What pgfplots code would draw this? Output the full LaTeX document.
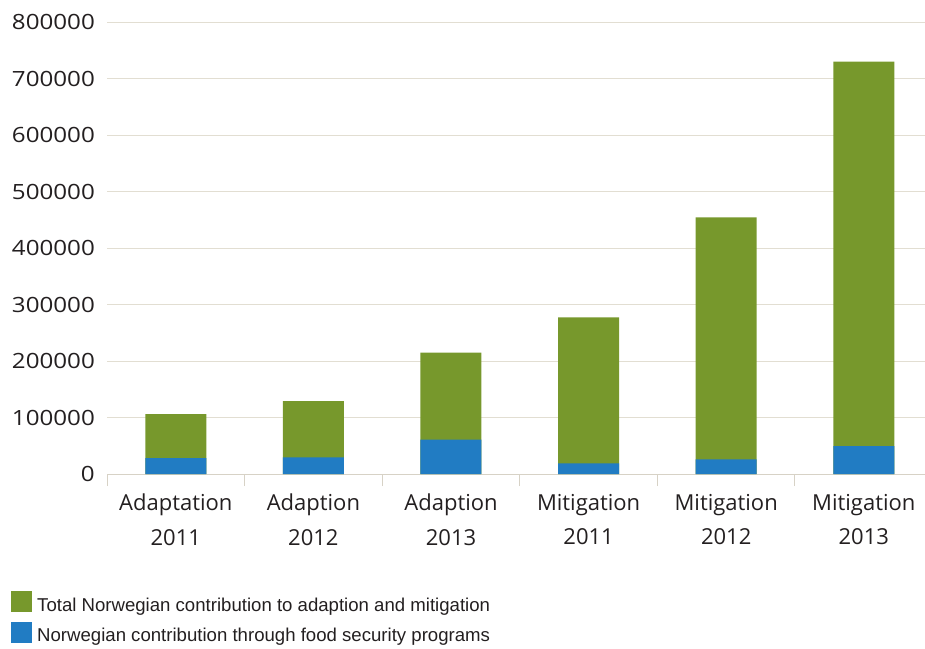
\documentclass[border=0pt]{standalone}
\usepackage{fontspec}
\setmainfont{Open Sans}
\newfontfamily\widefont[FakeStretch=1.15]{Open Sans}
\newfontfamily\legfont{Liberation Sans}
\usepackage{pgfplots}
\pgfplotsset{compat=1.18}
\definecolor{cgreen}{RGB}{119,152,44}
\definecolor{cblue}{RGB}{33,124,195}
\definecolor{cgrid}{RGB}{226,222,210}
\definecolor{caxis}{RGB}{215,210,198}
\definecolor{ctext}{RGB}{35,31,32}
\begin{document}
\begin{tikzpicture}
\path[use as bounding box] (0pt,0pt) rectangle (925pt,648pt);
\begin{axis}[
  at={(107pt,174pt)}, anchor=south west,
  scale only axis, width=818pt, height=452pt,
  xmin=-0.5, xmax=5.445, ymin=0, ymax=800000,
  axis x line*=bottom, axis y line*=left,
  x axis line style={draw=caxis, line width=1pt},
  y axis line style={draw=none},
  xtick={0,1,2,3,4,5},
  xticklabels={{Adaptation\\2011},{Adaption\\2012},{Adaption\\2013},{Mitigation\\2011},{Mitigation\\2012},{Mitigation\\2013}},
  minor xtick={-0.5,0.5,1.5,2.5,3.5,4.5},
  major tick length=0pt, minor tick length=12pt,
  tick align=outside,
  minor x tick style={draw=caxis, line width=1pt},
  xticklabel style={align=center, font=\fontsize{22}{34.3}\selectfont, text=ctext, inner sep=0pt, anchor=north, yshift=-20pt},
  ytick={0,100000,200000,300000,400000,500000,600000,700000,800000},
  scaled y ticks=false,
  yticklabel={\pgfmathprintnumber[fixed,precision=0,1000 sep={},assume math mode=true]{\tick}},
  yticklabel style={font=\widefont\fontsize{21}{21}\selectfont, text=ctext, inner sep=0pt, anchor=east, xshift=-12pt},
  ymajorgrids, grid style={draw=cgrid, line width=1pt},
  clip=false,
  legend style={at={(axis description cs:-0.11736,-0.2588)}, anchor=north west, draw=none, fill=none, inner sep=0pt, row sep=9pt, column sep=5pt, nodes={inner sep=0pt, text=ctext, font=\legfont\fontsize{18.6}{20}\selectfont}},
  legend cell align=left,
  legend image code/.code={\fill[#1] (0pt,-7pt) rectangle (21pt,14pt);},
]
\addplot[ybar, bar width=61pt, bar shift=0pt, fill=cgreen, draw=none] coordinates {(0,106000) (1,129000) (2,215000) (3,277000) (4,454000) (5,730000)};
\addlegendentry{Total Norwegian contribution to adaption and mitigation}
\addplot[ybar, bar width=61pt, bar shift=0pt, fill=cblue, draw=none] coordinates {(0,28000) (1,29500) (2,61000) (3,19000) (4,26000) (5,49500)};
\addlegendentry{Norwegian contribution through food security programs}
\end{axis}
\end{tikzpicture}
\end{document}
